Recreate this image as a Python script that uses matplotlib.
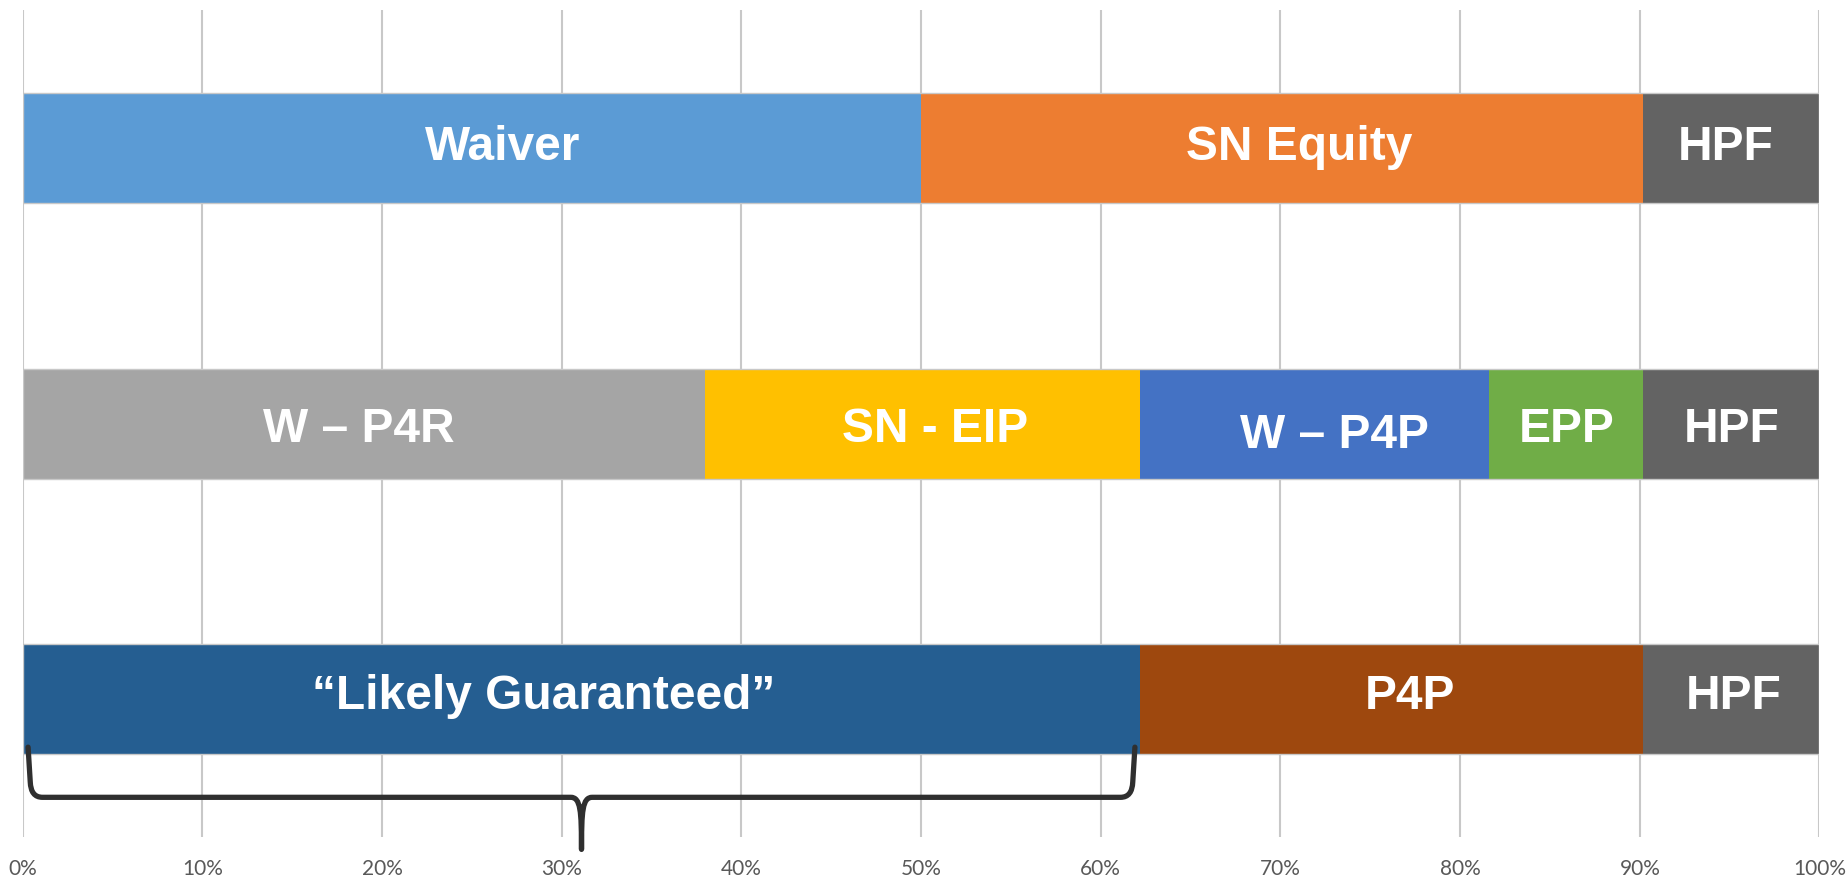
import matplotlib
matplotlib.use("Agg")
import matplotlib.pyplot as plt
from matplotlib.path import Path
from matplotlib.patches import PathPatch

# rows from top to bottom, shares in percent
rows = [0, 1, 2]
row_labels = [
    ["Waiver", "SN Equity", "HPF"],
    ["W \u2013 P4R", "SN - EIP", "W \u2013 P4P", "EPP", "HPF"],
    ["\u201cLikely Guaranteed\u201d", "P4P", "HPF"],
]
row_values = [
    [50.0, 40.2, 9.8],
    [38.0, 24.2, 19.4, 8.6, 9.8],
    [62.2, 28.0, 9.8],
]
row_colors = [
    ["#5B9BD5", "#ED7D31", "#636363"],
    ["#A5A5A5", "#FFC000", "#4472C4", "#70AD47", "#636363"],
    ["#255E91", "#9E480E", "#636363"],
]
tick_values = [0, 10, 20, 30, 40, 50, 60, 70, 80, 90, 100]
tick_labels = [f"{v}%" for v in tick_values]

# brace under the "Likely Guaranteed" segment
brace_start = 0.3
brace_end = 61.9
brace_tip = 31.1

# label nudges in pixels (text boxes were placed by hand in the original)
label_dx = [[31, 17, -6], [-5, 12, 20, 0, 0], [-38, 18, 2]]
label_dy = [-7, 0, -9]
label_dy_extra = {(1, 2): 6}

fig = plt.figure(figsize=(18.49, 8.78), dpi=100)
ax = fig.add_axes([22.7 / 1849, 1 - 838 / 878, (1819.5 - 22.7) / 1849, (838 - 11.25) / 878])

bar_h = 0.4
for r, labels, values, colors in zip(rows, row_labels, row_values, row_colors):
    left = 0.0
    for i, (lab, val, col) in enumerate(zip(labels, values, colors)):
        ax.barh(r, val, left=left, height=bar_h, color=col, edgecolor="none", zorder=2)
        dx = label_dx[r][i] * 0.72
        dy = -(label_dy[r] + label_dy_extra.get((r, i), 0)) * 0.72
        ax.annotate(lab, (left + val / 2, r), xytext=(dx, dy), textcoords="offset points",
                    ha="center", va="center_baseline", color="white", fontsize=34.5,
                    fontweight="bold", family="Liberation Sans", zorder=4)
        left += val
    ax.barh(r, sum(values), height=bar_h, facecolor="none", edgecolor="#C8C8C8",
            linewidth=1.0, zorder=3)

ax.set_xlim(0, 100)
ax.set_ylim(2.5, -0.5)
ax.set_xticks(tick_values)
ax.set_xticklabels(tick_labels, fontsize=15, color="#595959", family="Lato")
ax.set_yticks([])
ax.tick_params(axis="x", length=0, pad=15)
for s in ax.spines.values():
    s.set_visible(False)
ax.grid(axis="x", color="#C8C8C8", linewidth=1.5, zorder=0)
ax.set_axisbelow(True)

# curly brace
yb = 2.356
yt = 2.174
yk = 2.30
ytip = 2.545
verts = [
    (brace_start, yt), (brace_start + 0.12, yk),
    (brace_start + 0.15, yb), (brace_start + 0.8, yb),
    (brace_tip - 0.6, yb),
    (brace_tip - 0.05, yb), (brace_tip, yb + 0.05), (brace_tip, ytip),
    (brace_tip, yb + 0.05), (brace_tip + 0.05, yb), (brace_tip + 0.6, yb),
    (brace_end - 0.8, yb),
    (brace_end - 0.15, yb), (brace_end - 0.12, yk),
    (brace_end, yt),
]
codes = [Path.MOVETO, Path.LINETO, Path.CURVE3, Path.CURVE3, Path.LINETO,
         Path.CURVE4, Path.CURVE4, Path.CURVE4,
         Path.CURVE4, Path.CURVE4, Path.CURVE4,
         Path.LINETO, Path.CURVE3, Path.CURVE3, Path.LINETO]
brace = PathPatch(Path(verts, codes), facecolor="none", edgecolor="#2F2F2F",
                  linewidth=3.8, capstyle="round", joinstyle="round",
                  clip_on=False, zorder=5)
ax.add_patch(brace)

fig.savefig("out.png", dpi=100)
